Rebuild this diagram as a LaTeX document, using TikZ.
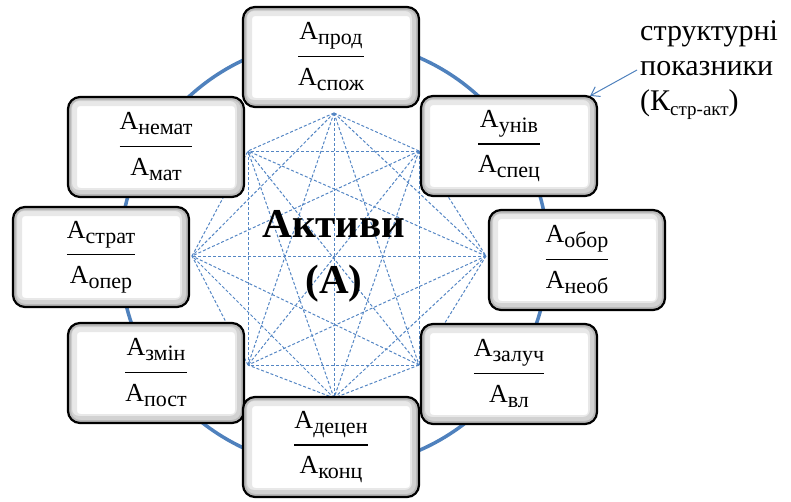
\documentclass[tikz,border=0pt]{standalone}
\usepackage{fontspec}
\setmainfont{Liberation Serif}
\usepackage{xcolor}
\usepackage{tikz}
\usetikzlibrary{arrows.meta, calc}

\definecolor{ringblue}{RGB}{79,129,189}
\definecolor{starblue}{RGB}{84,134,196}

% lowered index and the two-line ratio inside a box
\newcommand{\lowidx}[1]{\raisebox{-5pt}{\fontsize{22}{22}\selectfont #1}}
\newcommand{\ratio}[2]{%
  \begin{tabular}{@{}c@{}}
    \rule[-16pt]{0pt}{18pt}А\lowidx{#1}\\ \hline
    \rule{0pt}{28pt}А\lowidx{#2}
  \end{tabular}}
\setlength{\arrayrulewidth}{1.4pt}

\tikzset{
  ratiobox/.style={draw=black, line width=2.2pt, rounded corners=12pt, fill=white,
    minimum width=176pt, minimum height=100pt, inner sep=0pt,
    font=\fontsize{26}{20}\selectfont,
    path picture={
      \draw[gray!18, line width=18pt, rounded corners=12pt]
        (path picture bounding box.south west) rectangle (path picture bounding box.north east);
      \draw[gray!35, line width=11pt, rounded corners=12pt]
        ([xshift=-1.5pt,yshift=1.5pt]path picture bounding box.south west) rectangle ([xshift=-1.5pt,yshift=1.5pt]path picture bounding box.north east);
      \draw[gray!55, line width=6pt, rounded corners=12pt]
        (path picture bounding box.south west) rectangle (path picture bounding box.north east);
    }},
  starline/.style={starblue, line width=1pt, dash pattern=on 3pt off 2pt},
  ring/.style={ringblue, line width=3.5pt},
  pointer/.style={ringblue, line width=1pt, -{Straight Barb[length=8pt,width=11pt]}},
}

\begin{document}
\begin{tikzpicture}[x=1pt, y=-1pt]
        \useasboundingbox (0,0) rectangle (791,501);

        % Ring behind the boxes
        \coordinate (O) at (334,254);
        \draw[ring] (O) circle (214);

        % Star points
        \coordinate (p1) at (334,113);
        \coordinate (p2) at (419,151);
        \coordinate (p3) at (486,256);
        \coordinate (p4) at (419,365);
        \coordinate (p5) at (334,398);
        \coordinate (p6) at (248,365);
        \coordinate (p7) at (192,256);
        \coordinate (p8) at (248,151);

        % Every point joined to every other one
        \foreach \i in {1,...,7} {
            \pgfmathtruncatemacro\k{\i+1}
            \foreach \j in {\k,...,8}
                \draw[starline] (p\i) -- (p\j);
        }

        % Boxes
        \node[ratiobox] (nemat)  at (156,147) {\ratio{немат}{мат}};
        \node[ratiobox] (strat)  at (101,257) {\ratio{страт}{опер}};
        \node[ratiobox] (zmin)   at (156,373) {\ratio{змін}{пост}};
        \node[ratiobox] (univ)   at (509,146) {\ratio{унів}{спец}};
        \node[ratiobox] (obor)   at (577,260) {\ratio{обор}{необ}};
        \node[ratiobox] (zaluch) at (509,374) {\ratio{залуч}{вл}};
        \node[ratiobox] (prod)   at (331,57)  {\ratio{прод}{спож}};
        \node[ratiobox] (decen)  at (331,447) {\ratio{децен}{конц}};

        % Centre title
        \node[align=center, font=\fontsize{41}{56}\selectfont\bfseries] (title) at (334,256) {Активи\\(А)};

        % Note on the right
        \node[anchor=north west, align=left, inner sep=0pt, font=\fontsize{30}{35}\selectfont]
            (note) at (640,20) {структурні\\показники\\(К\lowidx{\fontsize{19}{19}\selectfont стр-акт})};
        \coordinate (tail) at (637,70);
        \draw[pointer] (tail) -- ($(univ.north east)+(-8,1)$);
    \end{tikzpicture}
\end{document}
